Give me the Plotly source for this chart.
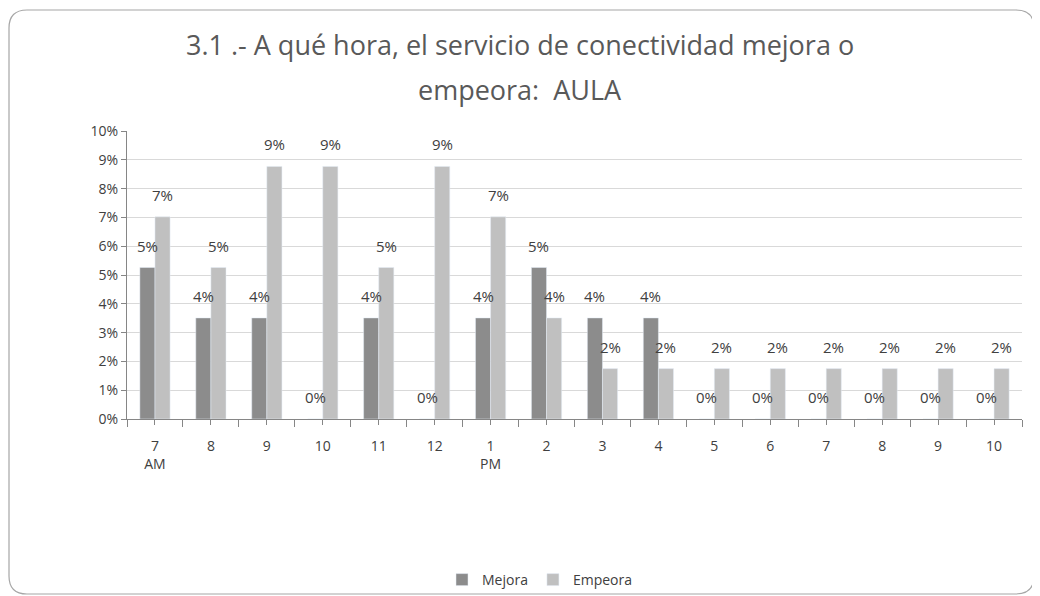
import plotly.graph_objects as go

# horas (7 AM .. 10 PM)
horas = ['7<br>AM', '8', '9', '10', '11', '12', '1<br>PM', '2', '3', '4',
         '5', '6', '7', '8', '9', '10']

# porcentajes
mejora = [0.0526, 0.0351, 0.0351, 0.0, 0.0351, 0.0, 0.0351, 0.0526,
          0.0351, 0.0351, 0.0, 0.0, 0.0, 0.0, 0.0, 0.0]
empeora = [0.0702, 0.0526, 0.0877, 0.0877, 0.0526, 0.0877, 0.0702, 0.0351,
           0.0175, 0.0175, 0.0175, 0.0175, 0.0175, 0.0175, 0.0175, 0.0175]

pos = list(range(len(horas)))
ancho = 0.27  # ancho de cada barra
txt = dict(family='Open Sans', size=15, color='#404040')

fig = go.Figure()
fig.add_trace(go.Bar(x=pos, y=mejora, name='Mejora', marker_color='#8c8c8c',
                     width=ancho))
fig.add_trace(go.Bar(x=pos, y=empeora, name='Empeora', marker_color='#c0c0c0',
                     width=ancho))

# etiquetas de datos encima de cada barra
for serie, desp in [(mejora, -ancho / 2), (empeora, ancho / 2)]:
    for i, v in zip(pos, serie):
        fig.add_annotation(x=i + desp, y=v, text=f'{v:.0%}', showarrow=False,
                           yshift=22, xanchor='center', yanchor='middle', font=txt)

# la pagina tiene 8px de margen en el body
OFF = 8
W, H = 1040 - OFF, 596 - OFF
L, R, T, B = 127 - OFF, 18, 131 - OFF, 596 - 419
pw, ph = W - L - R, H - T - B


def px(x, y):
    # coordenadas de pantalla -> paper
    return (x - OFF - L) / pw, (H - B - (y - OFF)) / ph


# titulo en dos lineas
for linea, ypix in [('3.1 .- A qué hora, el servicio de conectividad mejora o', 45),
                    ('empeora:  AULA', 90)]:
    ax, ay = px(520, ypix)
    fig.add_annotation(text=linea, x=ax, y=ay, xref='paper', yref='paper',
                       showarrow=False, xanchor='center', yanchor='middle',
                       font=dict(family='Open Sans', size=27, color='#595959'))

# borde redondeado del area del grafico
x0, y0 = px(9, 10)
x1, y1 = px(1034, 594)
r = 18 / pw
rv = 18 / ph
path = (f'M {x0 + r},{y0} L {x1 - r},{y0} Q {x1},{y0} {x1},{y0 - rv} '
        f'L {x1},{y1 + rv} Q {x1},{y1} {x1 - r},{y1} L {x0 + r},{y1} '
        f'Q {x0},{y1} {x0},{y1 + rv} L {x0},{y0 - rv} Q {x0},{y0} {x0 + r},{y0} Z')
fig.add_shape(type='path', path=path, xref='paper', yref='paper',
              line=dict(color='#a6a6a6', width=1.2), layer='below')

lx, _ = px(540, 590)
fig.update_layout(
    width=W, height=H,
    margin=dict(l=L, r=R, t=T, b=B),
    paper_bgcolor='white', plot_bgcolor='white',
    barmode='group', bargap=0.46, bargroupgap=0,
    font=dict(family='Open Sans', size=14, color='#404040'),
    showlegend=True,
    legend=dict(orientation='h', x=lx, xanchor='center',
                yref='container', y=0.0, yanchor='bottom',
                bgcolor='rgba(0,0,0,0)',
                font=dict(family='Open Sans', size=14, color='#404040'),
                itemwidth=30, traceorder='normal'),
    xaxis=dict(range=[-0.5, len(horas) - 0.5], tickvals=pos, ticktext=horas,
               ticks='outside', ticklen=5, tickcolor='#868686', ticklabelstandoff=9,
               showline=True, linecolor='#868686', showgrid=False, zeroline=False,
               minor=dict(tick0=-0.5, dtick=1, ticks='outside', ticklen=7,
                          tickcolor='#868686'),
               tickfont=dict(family='Open Sans', size=14, color='#404040')),
    yaxis=dict(range=[0, 0.1], dtick=0.01, tickformat='.0%',
               showgrid=True, gridcolor='#d9d9d9', zeroline=False,
               showline=True, linecolor='#868686', ticks='outside', ticklen=5,
               tickcolor='#868686',
               tickfont=dict(family='Open Sans', size=14, color='#404040')),
)

fig.write_html('out.html')
